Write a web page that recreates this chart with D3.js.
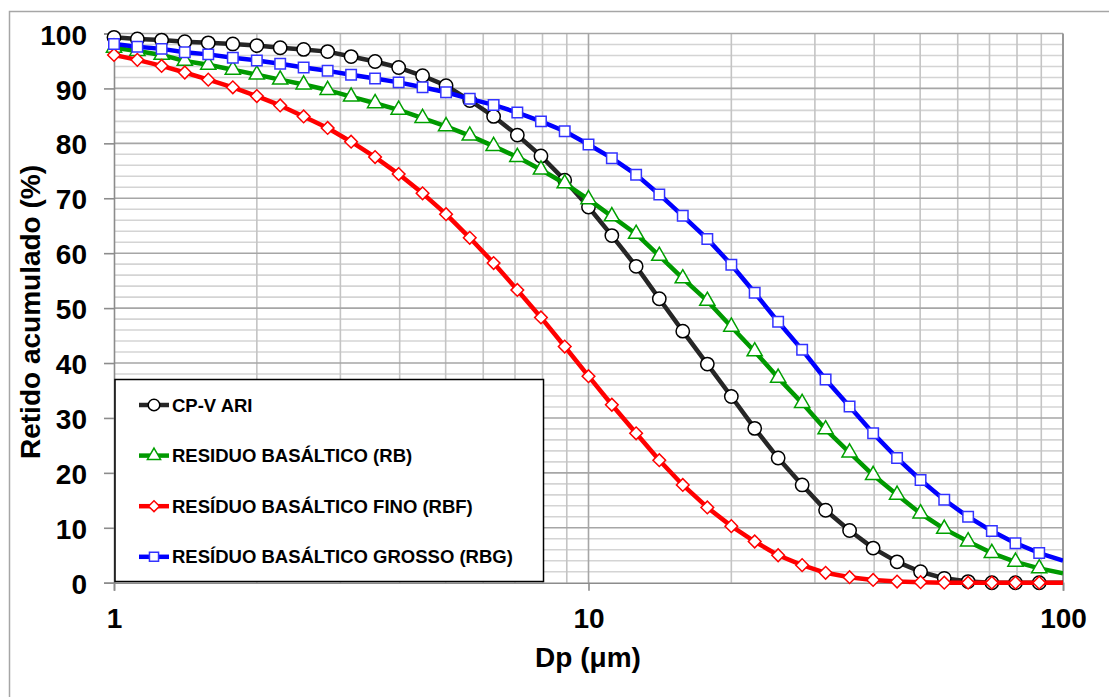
<!DOCTYPE html>
<html>
<head>
<meta charset="utf-8">
<script src="https://cdn.jsdelivr.net/npm/d3@7"></script>
<style>
  body { margin: 0; background: #fff; }
  svg { display: block; font-family: "Liberation Sans", Arial, sans-serif; font-weight: bold; }
</style>
</head>
<body>
<svg id="chart" width="1109" height="697"></svg>
<script>
// particle diameters (um), 20 classes per decade
var dp = [1.00, 1.12, 1.26, 1.41, 1.58, 1.78, 2.00, 2.24, 2.51, 2.82,
          3.16, 3.55, 3.98, 4.47, 5.01, 5.62, 6.31, 7.08, 7.94, 8.91,
          10.0, 11.2, 12.6, 14.1, 15.8, 17.8, 20.0, 22.4, 25.1, 28.2,
          31.6, 35.5, 39.8, 44.7, 50.1, 56.2, 63.1, 70.8, 79.4, 89.1, 100];

// retained (%) for each series
var cpv = [99.3, 99.0, 98.8, 98.5, 98.3, 98.1, 97.8, 97.4, 97.1, 96.7,
           95.8, 94.9, 93.8, 92.3, 90.5, 87.8, 84.9, 81.5, 77.7, 73.3,
           68.4, 63.2, 57.6, 51.7, 45.8, 39.8, 33.9, 28.1, 22.7, 17.8,
           13.2, 9.5, 6.3, 3.8, 2.0, 0.8, 0.2, 0, 0, 0, 0];
var rb  = [97.4, 96.8, 96.1, 95.0, 94.3, 93.4, 92.5, 91.6, 90.7, 89.7,
           88.5, 87.3, 86.1, 84.6, 83.1, 81.4, 79.5, 77.5, 75.2, 72.7,
           69.8, 66.7, 63.5, 59.5, 55.4, 51.3, 46.6, 42.1, 37.3, 32.7,
           27.9, 23.7, 19.6, 16.0, 12.6, 9.8, 7.5, 5.4, 3.8, 2.6, 1.7];
var rbf = [96.1, 95.2, 94.1, 92.9, 91.6, 90.2, 88.6, 86.9, 84.9, 82.8,
           80.3, 77.5, 74.4, 70.9, 67.1, 62.8, 58.2, 53.3, 48.3, 43.0,
           37.6, 32.4, 27.2, 22.3, 17.8, 13.7, 10.3, 7.5, 5.0, 3.2,
           1.8, 1.0, 0.5, 0.2, 0.1, 0, 0, 0, 0, 0, 0];
var rbg = [98.1, 97.6, 97.2, 96.6, 96.2, 95.6, 95.1, 94.5, 93.8, 93.2,
           92.5, 91.8, 91.1, 90.2, 89.3, 88.1, 87.0, 85.6, 84.0, 82.2,
           79.8, 77.3, 74.3, 70.7, 66.8, 62.6, 57.9, 52.8, 47.5, 42.4,
           37.0, 32.1, 27.2, 22.7, 18.7, 15.1, 12.0, 9.4, 7.2, 5.4, 4.0];

var seriesNames = ["CP-V ARI", "RESIDUO BASÁLTICO (RB)",
                   "RESÍDUO BASÁLTICO FINO (RBF)", "RESÍDUO BASÁLTICO GROSSO (RBG)"];
var yTicks = [0, 10, 20, 30, 40, 50, 60, 70, 80, 90, 100];
var xTicks = [1, 10, 100];

var svg = d3.select("#chart");
// plot area edges ("top" is taken by window.top, so prefix them)
var pLeft = 114, pRight = 1063, pTop = 33.5, pBottom = 582.7;

var x = d3.scaleLog().domain([1, 100]).range([pLeft, pRight]);
var y = d3.scaleLinear().domain([0, 100]).range([pBottom, pTop]);

// outer chart border (runs off the page)
svg.append("rect").attr("x", 9.5).attr("y", 11.5).attr("width", 1300).attr("height", 900)
    .attr("fill", "none").attr("stroke", "#a6a6a6").attr("stroke-width", 1.5);

var grid = svg.append("g");
// minor horizontal gridlines every 2
grid.selectAll(".hmin").data(d3.range(2, 100, 2).filter(function(v){ return v % 10 !== 0; }))
  .enter().append("line")
    .attr("x1", pLeft).attr("x2", pRight)
    .attr("y1", function(d){ return y(d); }).attr("y2", function(d){ return y(d); })
    .attr("stroke", "#d4d4d4").attr("stroke-width", 1.6);
// vertical gridlines
var xMinor = [];
[1, 10].forEach(function(dec){ for (var m = 2; m <= 9; m++) xMinor.push(dec * m); });
grid.selectAll(".vmin").data(xMinor).enter().append("line")
    .attr("x1", function(d){ return x(d); }).attr("x2", function(d){ return x(d); })
    .attr("y1", pTop).attr("y2", pBottom)
    .attr("stroke", "#c4c4c4").attr("stroke-width", 1.6);
grid.append("line").attr("x1", x(10)).attr("x2", x(10)).attr("y1", pTop).attr("y2", pBottom)
    .attr("stroke", "#a6a6a6").attr("stroke-width", 1.6);
// major horizontal gridlines every 10
grid.selectAll(".hmaj").data(yTicks.slice(1)).enter().append("line")
    .attr("x1", pLeft).attr("x2", pRight)
    .attr("y1", function(d){ return y(d); }).attr("y2", function(d){ return y(d); })
    .attr("stroke", "#a6a6a6").attr("stroke-width", 1.6);
grid.append("line").attr("x1", pRight).attr("x2", pRight).attr("y1", pTop).attr("y2", pBottom)
    .attr("stroke", "#999").attr("stroke-width", 2);

// axes
var axisY = d3.axisLeft(y).tickValues(yTicks).tickSize(10).tickPadding(17);
var gy = svg.append("g").attr("transform", "translate(" + pLeft + ",0)").call(axisY);
gy.select(".domain").attr("stroke", "#8c8c8c").attr("stroke-width", 1.6);
gy.selectAll(".tick line").attr("stroke", "#8c8c8c").attr("stroke-width", 1.6);
gy.selectAll(".tick text").attr("font-size", 28).attr("font-weight", "bold")
    .attr("fill", "#000").attr("dy", "0.38em").attr("font-family", "Liberation Sans, Arial, sans-serif");

var axisX = d3.axisBottom(x).tickValues(xTicks).tickFormat(d3.format("d")).tickSize(8).tickPadding(17);
var gx = svg.append("g").attr("transform", "translate(0," + pBottom + ")").call(axisX);
gx.select(".domain").attr("stroke", "#8c8c8c").attr("stroke-width", 1.6);
gx.selectAll(".tick line").attr("stroke", "#8c8c8c").attr("stroke-width", 1.6);
gx.selectAll(".tick text").attr("font-size", 28).attr("font-weight", "bold")
    .attr("fill", "#000").attr("font-family", "Liberation Sans, Arial, sans-serif");

// axis titles
svg.append("text").attr("transform", "translate(40,312) rotate(-90)")
    .attr("text-anchor", "middle").attr("font-size", 28).text("Retido acumulado (%)");
svg.append("text").attr("x", 588).attr("y", 667)
    .attr("text-anchor", "middle").attr("font-size", 28).text("Dp (μm)");

// marker shapes; diamond = square turned 45 degrees
var series = [
  {name: seriesNames[0], values: cpv, line: "#262626", mark: "#000000", symbol: d3.symbolCircle, size: 140, rot: 0},
  {name: seriesNames[1], values: rb,  line: "#009900", mark: "#00a000", symbol: d3.symbolTriangle, size: 100, rot: 0},
  {name: seriesNames[2], values: rbf, line: "#ff0000", mark: "#ff0000", symbol: d3.symbolSquare, size: 80, rot: 45},
  {name: seriesNames[3], values: rbg, line: "#0000ff", mark: "#3333ff", symbol: d3.symbolSquare, size: 110, rot: 0}
];

svg.append("clipPath").attr("id", "plotclip").append("rect")
    .attr("x", pLeft).attr("y", pTop - 10).attr("width", pRight - pLeft).attr("height", pBottom - pTop + 20);

var line = d3.line()
    .x(function(d){ return x(d.x); })
    .y(function(d){ return y(d.y); });

var plot = svg.append("g");
series.forEach(function(s){
  var pts = dp.map(function(v, i){ return {x: v, y: s.values[i]}; });
  var g = plot.append("g");
  g.append("path").datum(pts).attr("d", line)
      .attr("fill", "none").attr("stroke", s.line).attr("stroke-width", 4.5)
      .attr("stroke-linejoin", "round").attr("clip-path", "url(#plotclip)");
  g.selectAll("path.m").data(pts.filter(function(d){ return d.x < 100; })).enter().append("path")
      .attr("class", "m")
      .attr("transform", function(d){ return "translate(" + x(d.x) + "," + y(d.y) + ") rotate(" + s.rot + ")"; })
      .attr("d", d3.symbol().type(s.symbol).size(s.size))
      .attr("fill", "#fff").attr("stroke", s.mark).attr("stroke-width", 1.5);
});

// legend
var lg = svg.append("g");
lg.append("rect").attr("x", 115).attr("y", 379.5).attr("width", 428.5).attr("height", 202)
    .attr("fill", "#fff").attr("stroke", "#000").attr("stroke-width", 1.5);
series.forEach(function(s, i){
  var cy = 405 + i * 50.6;
  var row = lg.append("g").attr("transform", "translate(0," + cy + ")");
  row.append("line").attr("x1", 139).attr("x2", 169).attr("y1", 0).attr("y2", 0)
      .attr("stroke", s.line).attr("stroke-width", 4.5);
  row.append("path").attr("transform", "translate(154,0) rotate(" + s.rot + ")")
      .attr("d", d3.symbol().type(s.symbol).size(s.size * 0.75))
      .attr("fill", "#fff").attr("stroke", s.mark).attr("stroke-width", 1.5);
  row.append("text").attr("x", 172).attr("y", 6.5).attr("font-size", 18.5).attr("fill", "#000").text(s.name);
});
</script>
</body>
</html>
